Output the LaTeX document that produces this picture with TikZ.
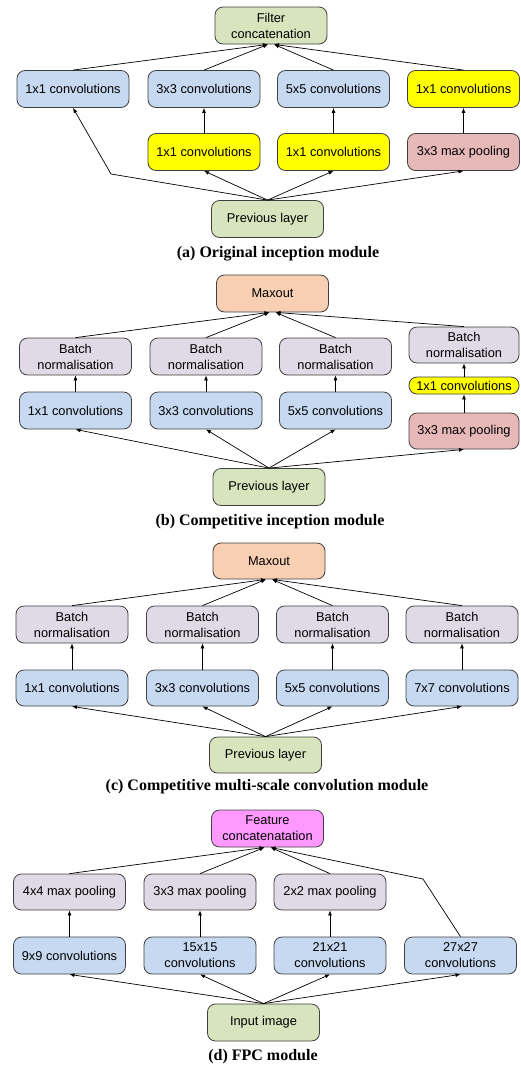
\documentclass[tikz,border=0pt]{standalone}
\usepackage{fontspec}
\setmainfont{Liberation Sans}
\newfontfamily\capfont{Liberation Serif}
\usepackage{tikz}
\usepackage{xcolor}
\usetikzlibrary{arrows.meta}
\definecolor{boxblue}{HTML}{C6D9F1}
\definecolor{boxgreen}{HTML}{D7E4BD}
\definecolor{boxyellow}{HTML}{FFFF00}
\definecolor{boxred}{HTML}{E6B9B8}
\definecolor{boxlilac}{HTML}{DFDAE6}
\definecolor{boxorange}{HTML}{F8CFB2}
\definecolor{boxpink}{HTML}{FF99FF}

\begin{document}
\begin{tikzpicture}[x=1pt,y=-1pt,
  box/.style={draw=black!75, line width=0.8pt, rounded corners=8pt, minimum width=112pt, minimum height=37pt, inner sep=0pt, align=center, font=\fontsize{12.8}{16}\selectfont},
  blue/.style={box, fill=boxblue},
  green/.style={box, fill=boxgreen},
  yellow/.style={box, fill=boxyellow},
  red/.style={box, fill=boxred},
  lilac/.style={box, fill=boxlilac},
  orange/.style={box, fill=boxorange},
  pink/.style={box, fill=boxpink},
  arr/.style={-{Latex[length=5pt,width=4pt]}, line width=0.7pt},
  caption/.style={font=\capfont\bfseries\fontsize{16}{18}\selectfont, inner sep=0pt}]
\useasboundingbox (0,0) rectangle (520,1066);

\node[green] (fca) at (271,25.5) {Filter\\concatenation};
\node[blue] (a11) at (73,89) {1x1 convolutions};
\node[blue] (a33) at (204,89) {3x3 convolutions};
\node[blue] (a55) at (333.5,89) {5x5 convolutions};
\node[yellow] (a1y) at (463.5,89) {1x1 convolutions};
\node[yellow] (a1ya) at (204,152) {1x1 convolutions};
\node[yellow] (a1yb) at (333.5,152) {1x1 convolutions};
\node[red] (apool) at (463.5,152) {3x3 max pooling};
\node[green] (aprev) at (267.5,219) {Previous layer};
\coordinate (abend) at (111,174);
\node[caption] (capa) at (278,254) {(a) Original inception module};
\draw[arr] (aprev.north) -- (abend) -- (a11.south);
\draw[arr] (aprev.north) -- (a1ya.south);
\draw[arr] (aprev.north) -- (a1yb.south);
\draw[arr] (aprev.north) -- (apool.south);
\draw[arr] (a1ya) -- (a33);
\draw[arr] (a1yb) -- (a55);
\draw[arr] (apool) -- (a1y);
\draw[arr] (a11.north) -- ([xshift=-3pt]fca.south);
\draw[arr] (a33.north) -- ([xshift=-3pt]fca.south);
\draw[arr] (a55.north) -- ([xshift=3pt]fca.south);
\draw[arr] (a1y.north) -- ([xshift=3pt]fca.south);

\node[orange] (mxb) at (272.5,293.5) {Maxout};
\node[lilac] (bn1) at (75.5,356.5) {Batch\\normalisation};
\node[lilac] (bn2) at (206,356.5) {Batch\\normalisation};
\node[lilac] (bn3) at (335.5,356.5) {Batch\\normalisation};
\node[lilac, minimum width=110pt, minimum height=36pt] (bn4) at (464,345) {Batch\\normalisation};
\node[blue] (cb1) at (75.5,410.5) {1x1 convolutions};
\node[blue] (cb2) at (206,410.5) {3x3 convolutions};
\node[blue] (cb3) at (335.5,410.5) {5x5 convolutions};
\node[yellow, minimum width=110pt, minimum height=17pt] (by) at (464,385.5) {1x1 convolutions};
\node[red, minimum width=110pt, minimum height=36pt] (bpool) at (464,431) {3x3 max pooling};
\node[green] (bprev) at (269,487) {Previous layer};
\node[caption] (capb) at (270,522) {(b) Competitive inception module};
\draw[arr] (bprev.north) -- (cb1.south);
\draw[arr] (bprev.north) -- (cb2.south);
\draw[arr] (bprev.north) -- (cb3.south);
\draw[arr] (bprev.north) -- (bpool.south);
\draw[arr] (cb1) -- (bn1);
\draw[arr] (cb2) -- (bn2);
\draw[arr] (cb3) -- (bn3);
\draw[arr] (bpool) -- (by);
\draw[arr] (by) -- (bn4);
\draw[arr] (bn1.north) -- ([xshift=-3pt]mxb.south);
\draw[arr] (bn2.north) -- ([xshift=-3pt]mxb.south);
\draw[arr] (bn3.north) -- ([xshift=3pt]mxb.south);
\draw[arr] (bn4.north) -- ([xshift=3pt]mxb.south);

\node[orange, minimum height=36pt] (mxc) at (269,561) {Maxout};
\node[lilac] (cn1) at (72,624.5) {Batch\\normalisation};
\node[lilac] (cn2) at (202.5,624.5) {Batch\\normalisation};
\node[lilac] (cn3) at (332.5,624.5) {Batch\\normalisation};
\node[lilac] (cn4) at (462,624.5) {Batch\\normalisation};
\node[blue, minimum height=36pt] (cc1) at (72,688) {1x1 convolutions};
\node[blue, minimum height=36pt] (cc2) at (202.5,688) {3x3 convolutions};
\node[blue, minimum height=36pt] (cc3) at (332.5,688) {5x5 convolutions};
\node[blue, minimum height=36pt] (cc4) at (462,688) {7x7 convolutions};
\node[green, minimum height=36pt] (cprev) at (265.5,755) {Previous layer};
\node[caption] (capc) at (267,787) {(c) Competitive multi-scale convolution module};
\draw[arr] (cprev.north) -- (cc1.south);
\draw[arr] (cprev.north) -- (cc2.south);
\draw[arr] (cprev.north) -- (cc3.south);
\draw[arr] (cprev.north) -- (cc4.south);
\draw[arr] (cc1) -- (cn1);
\draw[arr] (cc2) -- (cn2);
\draw[arr] (cc3) -- (cn3);
\draw[arr] (cc4) -- (cn4);
\draw[arr] (cn1.north) -- ([xshift=-3pt]mxc.south);
\draw[arr] (cn2.north) -- ([xshift=-3pt]mxc.south);
\draw[arr] (cn3.north) -- ([xshift=3pt]mxc.south);
\draw[arr] (cn4.north) -- ([xshift=3pt]mxc.south);

\node[pink] (fcd) at (267.5,828.5) {Feature\\concatenatation};
\node[lilac, minimum height=36pt] (dp1) at (69.5,892) {4x4 max pooling};
\node[lilac, minimum height=36pt] (dp2) at (200,892) {3x3 max pooling};
\node[lilac, minimum height=36pt] (dp3) at (330,892) {2x2 max pooling};
\node[blue] (dc1) at (69.5,955.5) {9x9 convolutions};
\node[blue] (dc2) at (200,955.5) {15x15\\convolutions};
\node[blue] (dc3) at (330,955.5) {21x21\\convolutions};
\node[blue] (dc4) at (460.5,955.5) {27x27\\convolutions};
\coordinate (dbend) at (423,879);
\node[green] (dprev) at (263.5,1022.5) {Input image};
\node[caption] (capd) at (263,1057) {(d) FPC module};
\draw[arr] (dprev.north) -- (dc1.south);
\draw[arr] (dprev.north) -- (dc2.south);
\draw[arr] (dprev.north) -- (dc3.south);
\draw[arr] (dprev.north) -- (dc4.south);
\draw[arr] (dc1) -- (dp1);
\draw[arr] (dc2) -- (dp2);
\draw[arr] (dc3) -- (dp3);
\draw[arr] (dp1.north) -- ([xshift=-3pt]fcd.south);
\draw[arr] (dp2.north) -- ([xshift=-3pt]fcd.south);
\draw[arr] (dp3.north) -- ([xshift=3pt]fcd.south);
\draw[arr] (dc4.north) -- (dbend) -- ([xshift=3pt]fcd.south);
\end{tikzpicture}
\end{document}
